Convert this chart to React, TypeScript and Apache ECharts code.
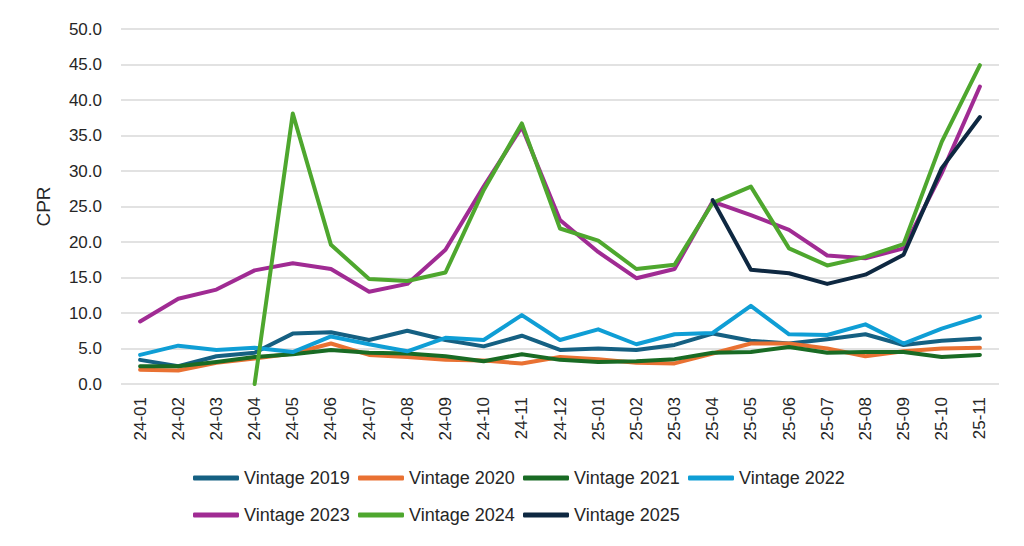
import React, { useEffect, useRef } from "react";
import * as echarts from "echarts";

const categories = [
  "24-01", "24-02", "24-03", "24-04", "24-05", "24-06", "24-07", "24-08", "24-09", "24-10", "24-11", "24-12",
  "25-01", "25-02", "25-03", "25-04", "25-05", "25-06", "25-07", "25-08", "25-09", "25-10", "25-11",
];

const v2019 = [3.4, 2.5, 3.9, 4.4, 7.1, 7.3, 6.2, 7.5, 6.2, 5.3, 6.8, 4.8, 5.0, 4.8, 5.5, 7.1, 6.1, 5.7, 6.3, 7.0, 5.5, 6.1, 6.4];
const v2020 = [2.0, 1.9, 3.0, 3.6, 4.3, 5.7, 4.1, 3.8, 3.4, 3.3, 2.9, 3.8, 3.5, 3.0, 2.9, 4.3, 5.7, 5.7, 5.0, 3.9, 4.6, 5.0, 5.1];
const v2021 = [2.5, 2.5, 3.1, 3.8, 4.2, 4.8, 4.4, 4.3, 3.9, 3.2, 4.2, 3.4, 3.1, 3.2, 3.5, 4.4, 4.5, 5.2, 4.4, 4.5, 4.5, 3.8, 4.1];
const v2022 = [4.1, 5.4, 4.8, 5.1, 4.5, 6.7, 5.6, 4.6, 6.5, 6.2, 9.7, 6.2, 7.7, 5.6, 7.0, 7.2, 11.0, 7.0, 6.9, 8.4, 5.7, 7.8, 9.5];
const v2023 = [8.8, 12.0, 13.3, 16.0, 17.0, 16.2, 13.0, 14.1, 18.9, 27.8, 36.2, 23.1, 18.6, 14.9, 16.2, 25.7, 23.8, 21.7, 18.1, 17.7, 19.1, 29.7, 41.9];
const v2024 = [null, null, null, 0.0, 38.1, 19.6, 14.8, 14.5, 15.7, 27.3, 36.7, 21.9, 20.2, 16.2, 16.8, 25.5, 27.8, 19.1, 16.7, 17.9, 19.7, 34.1, 44.9];
const v2025 = [null, null, null, null, null, null, null, null, null, null, null, null, null, null, null, 25.9, 16.1, 15.6, 14.1, 15.4, 18.2, 30.4, 37.6];

const seriesNames = ["Vintage 2019", "Vintage 2020", "Vintage 2021", "Vintage 2022", "Vintage 2023", "Vintage 2024", "Vintage 2025"];
const seriesValues = [v2019, v2020, v2021, v2022, v2023, v2024, v2025];
const seriesColors = ["#156082", "#E97132", "#196B24", "#0F9ED5", "#A02B93", "#4EA72E", "#0E2841"];

export default function App() {
  const ref = useRef<HTMLDivElement>(null);
  useEffect(() => {
    if (!ref.current) return;
    const chart = echarts.init(ref.current, undefined, { renderer: "svg" });
    const legendText = {
      fontFamily: "'Liberation Sans Narrow', 'Arial Narrow', 'Liberation Sans', sans-serif",
      fontSize: 18,
      color: "#262626",
      width: 111,
      lineHeight: 22,
    };
    const legendBase = {
      left: 188,
      itemWidth: 46,
      itemHeight: 5,
      itemGap: 3,
      icon: "roundRect",
      textStyle: legendText,
    };
    chart.setOption({
      animation: false,
      backgroundColor: "#ffffff",
      grid: { left: 121, right: 25, top: 29, bottom: 162, containLabel: false },
      legend: [
        { ...legendBase, data: seriesNames.slice(0, 4), top: 462 },
        { ...legendBase, data: seriesNames.slice(4), top: 499 },
      ],
      xAxis: {
        type: "category",
        data: categories,
        boundaryGap: true,
        axisLine: { show: false },
        axisTick: { show: false },
        axisLabel: {
          rotate: 90,
          margin: 13,
          fontSize: 17,
          color: "#262626",
          fontFamily: "'Liberation Sans', Arial, sans-serif",
          interval: 0,
        },
      },
      yAxis: {
        type: "value",
        min: 0,
        max: 50,
        interval: 5,
        name: "CPR",
        nameLocation: "middle",
        nameGap: 68,
        nameTextStyle: { fontSize: 19, color: "#262626", fontFamily: "'Liberation Sans', Arial, sans-serif" },
        axisLine: { show: false },
        axisTick: { show: false },
        splitLine: { lineStyle: { color: "#d9d9d9", width: 1.5 } },
        axisLabel: {
          formatter: (v: number) => v.toFixed(1),
          margin: 19,
          fontSize: 17,
          color: "#262626",
          fontFamily: "'Liberation Sans', Arial, sans-serif",
        },
      },
      series: seriesNames.map((name, i) => ({
        name,
        type: "line",
        data: seriesValues[i],
        symbol: "none",
        showSymbol: false,
        connectNulls: false,
        color: seriesColors[i],
        lineStyle: { width: 4, color: seriesColors[i], cap: "round", join: "round" },
      })),
    });
    return () => chart.dispose();
  }, []);
  return <div ref={ref} style={{ width: 1024, height: 546, margin: -8 }} />;
}
